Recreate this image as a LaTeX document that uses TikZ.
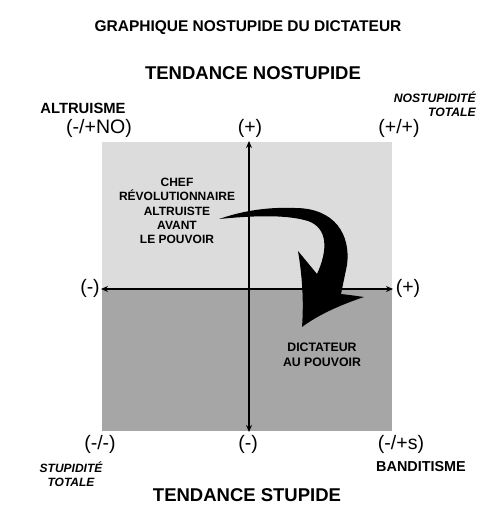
\documentclass[tikz,border=0pt]{standalone}
\usepackage{fontspec}
\setmainfont{Liberation Sans}
\usetikzlibrary{arrows.meta}
\definecolor{lightq}{HTML}{DCDCDC}
\definecolor{darkq}{HTML}{A6A6A6}
\tikzset{
  lbl/.style={font=\fontsize{19.5}{20}\selectfont, inner sep=0pt},
  bl/.style={font=\bfseries\fontsize{15.5}{17}\selectfont, inner sep=0pt},
  big/.style={font=\bfseries\fontsize{18.5}{20}\selectfont, inner sep=0pt},
  itl/.style={font=\bfseries\itshape\fontsize{12.2}{14}\selectfont, inner sep=0pt, align=right},
  itc/.style={font=\bfseries\itshape\fontsize{12}{14}\selectfont, inner sep=0pt, align=center},
  inner/.style={font=\bfseries\fontsize{12}{14.4}\selectfont, inner sep=0pt, align=center},
  axis/.style={line width=1.3pt, {Stealth[length=7pt,width=6pt]}-{Stealth[length=7pt,width=6pt]}}
}
\begin{document}
\begin{tikzpicture}[x=1pt,y=-1pt]
\useasboundingbox (0,0) rectangle (500,529);
\fill[lightq] (102,142) rectangle (392,290);
\fill[darkq] (102,290) rectangle (392,431);
\coordinate (vt) at (249,141);
\coordinate (vb) at (249,432);
\coordinate (hl) at (101,289);
\coordinate (hr) at (393,289);
\draw[axis] (vt) -- (vb);
\draw[axis] (hl) -- (hr);
\node[bl] (title) at (248,28) {GRAPHIQUE NOSTUPIDE DU DICTATEUR};
\node[big] (tn) at (253,73) {TENDANCE NOSTUPIDE};
\node[big] (ts) at (247,495) {TENDANCE STUPIDE};
\node[bl, font=\bfseries\fontsize{14.8}{16}\selectfont] (alt) at (83,108) {ALTRUISME};
\node[itl, anchor=east] (nt) at (476,104) {NOSTUPIDITÉ\\TOTALE};
\node[lbl] (a1) at (99,128) {(-/+NO)};
\node[lbl] (a2) at (250,128) {(+)};
\node[lbl] (a3) at (399,128) {(+/+)};
\node[lbl] (a4) at (90,288) {(-)};
\node[lbl] (a5) at (408,288) {(+)};
\node[lbl] (a6) at (100,444) {(-/-)};
\node[lbl] (a7) at (248,444) {(-)};
\node[lbl] (a8) at (401,444) {(-/+s)};
\node[itc] (st) at (71,474) {STUPIDITÉ\\TOTALE};
\node[bl, font=\bfseries\fontsize{14.4}{16}\selectfont] (ban) at (421,467) {BANDITISME};
\node[inner] (chef) at (177,211) {CHEF\\RÉVOLUTIONNAIRE\\ALTRUISTE\\AVANT\\LE POUVOIR};
\node[inner, font=\bfseries\fontsize{12.3}{15.5}\selectfont] (dic) at (322,355) {DICTATEUR\\AU POUVOIR};
\fill[black] (219,219) .. controls (245,210) and (270,207) .. (295,208)
  .. controls (335,208) and (351,235) .. (347,265)
  -- (341,294) .. controls (350,295) and (357,296) .. (364,297)
  .. controls (340,305) and (318,315) .. (302,327)
  .. controls (304,300) and (302,275) .. (298,251)
  -- (317,274) .. controls (328,250) and (328,228) .. (308,221)
  .. controls (285,214) and (250,216) .. cycle;
\end{tikzpicture}
\end{document}
